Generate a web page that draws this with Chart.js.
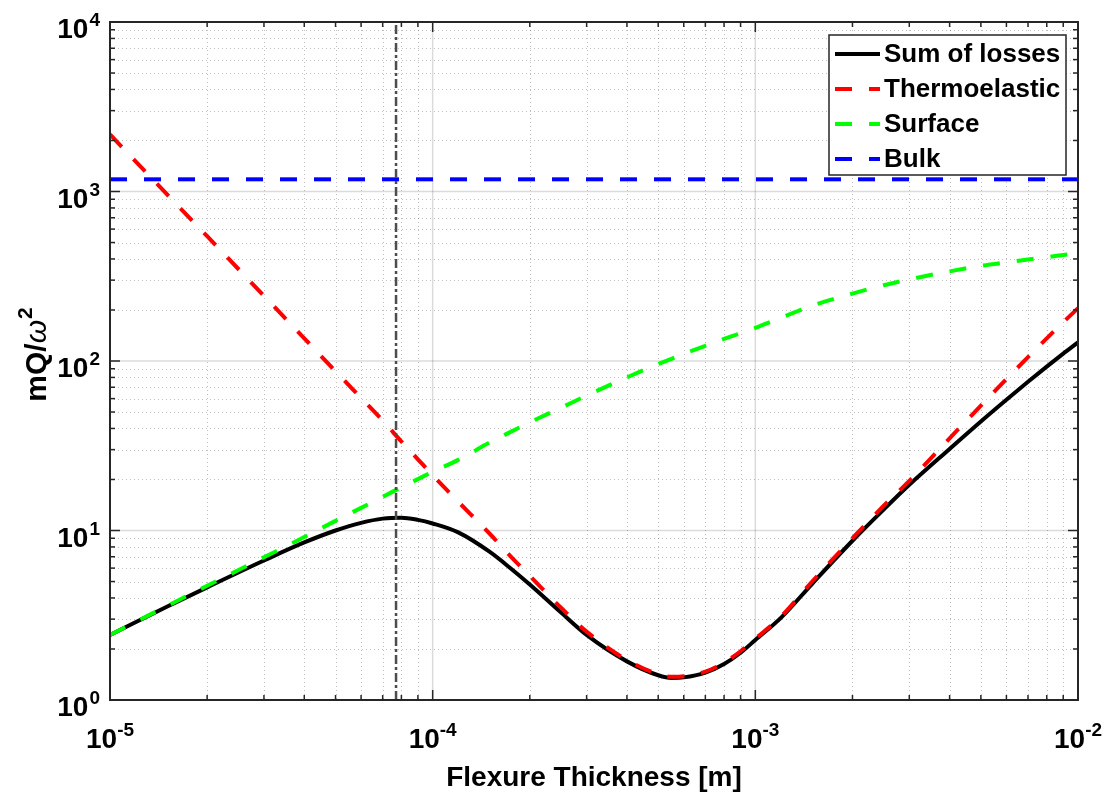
<!DOCTYPE html>
<html lang="en">
<head>
  <meta charset="UTF-8">
  <meta name="viewport" content="width=device-width, initial-scale=1.0">

  <!-- script element -- JavaScript- Chart.js -->
  <script src="https://cdn.jsdelivr.net/npm/chart.js@4.4.1/dist/chart.umd.min.js"></script>

  <title>Loss budget vs flexure thickness</title>
  <style>
    html, body { margin: 0; padding: 0; background: #ffffff; }
    canvas { display: block; }
  </style>
</head>
<body>
  <canvas id="chart" width="1110" height="792"></canvas>

  <script>
    // 01 data (x = flexure thickness [m], y = mQ/w^2)
    const thickness = [1e-5, 1.5e-5, 2e-5, 3e-5, 4e-5, 5e-5, 6e-5, 7e-5, 8e-5, 9e-5,
      1e-4, 1.2e-4, 1.5e-4, 1.75e-4, 2e-4, 2.5e-4, 3e-4, 4e-4, 5e-4, 5.5e-4, 6e-4, 7e-4, 8e-4, 9e-4,
      1e-3, 1.2e-3, 1.5e-3, 2e-3, 2.5e-3, 3e-3, 4e-3, 5e-3, 6e-3, 7e-3, 8e-3, 9e-3, 1e-2];

    const sumOfLosses = [2.42, 3.55, 4.62, 6.65, 8.5, 10.0, 11.1, 11.75, 11.9, 11.55,
      11.0, 9.75, 7.5, 5.95, 4.8, 3.28, 2.42, 1.69, 1.40, 1.35, 1.36, 1.45, 1.63, 1.9,
      2.26, 3.05, 4.85, 8.7, 13.3, 18.6, 30.3, 44, 59.1, 75.4, 92.6, 110.5, 128.8];

    const thermoelastic = [2170, 965, 545, 242, 136, 87, 60.5, 44.5, 33.5, 26.3,
      21.2, 14.8, 9.6, 7.0, 5.4, 3.5, 2.53, 1.72, 1.42, 1.37, 1.38, 1.47, 1.66, 1.94,
      2.3, 3.1, 5.0, 9.0, 14.0, 19.6, 35, 54.5, 78.2, 105.5, 136, 169.3, 205];

    const surface = [2.42, 3.58, 4.72, 6.95, 9.15, 11.4, 13.6, 15.8, 18.0, 20.1,
      22.2, 26.1, 33, 38.3, 43.5, 53, 62.5, 80, 96, 103, 110, 123, 135, 146,
      157, 180, 212, 250, 280, 303, 338, 364, 382, 397, 410, 422, 433];

    const bulkThickness = [1e-5, 1e-2];
    const bulk = [1180, 1180];

    const markerThickness = [7.7e-5, 7.7e-5];   // dash-dot marker line
    const markerLevels = [1, 1e4];

    const legendLabels = ['Sum of losses', 'Thermoelastic', 'Surface', 'Bulk'];
    const xTickExponents = [-5, -4, -3, -2];
    const yTickExponents = [0, 1, 2, 3, 4];
    const xTitle = 'Flexure Thickness [m]';

    // 02 helpers
    const FONT = '"Liberation Sans", Arial, Helvetica, sans-serif';
    const toPoints = (xs, ys) => xs.map((x, i) => ({ x: x, y: ys[i] }));

    // 03 plugin -- MATLAB style box, grid, ticks, labels and legend
    const matlabAxes = {
      id: 'matlabAxes',
      beforeDatasetsDraw(chart) {
        const { ctx, chartArea: a, scales: { x, y } } = chart;
        ctx.save();
        // minor grid (dotted)
        ctx.strokeStyle = 'rgba(0,0,0,0.25)';
        ctx.lineWidth = 1;
        ctx.setLineDash([1, 3]);
        xTickExponents.slice(0, -1).forEach(e => {
          for (let m = 2; m <= 9; m++) {
            const px = Math.round(x.getPixelForValue(m * Math.pow(10, e))) + 0.5;
            ctx.beginPath(); ctx.moveTo(px, a.top); ctx.lineTo(px, a.bottom); ctx.stroke();
          }
        });
        yTickExponents.slice(0, -1).forEach(e => {
          for (let m = 2; m <= 9; m++) {
            const py = Math.round(y.getPixelForValue(m * Math.pow(10, e))) + 0.5;
            ctx.beginPath(); ctx.moveTo(a.left, py); ctx.lineTo(a.right, py); ctx.stroke();
          }
        });
        // major grid (solid light gray)
        ctx.setLineDash([]);
        ctx.strokeStyle = 'rgba(0,0,0,0.14)';
        ctx.lineWidth = 1.5;
        xTickExponents.forEach(e => {
          const px = x.getPixelForValue(Math.pow(10, e));
          ctx.beginPath(); ctx.moveTo(px, a.top); ctx.lineTo(px, a.bottom); ctx.stroke();
        });
        yTickExponents.forEach(e => {
          const py = y.getPixelForValue(Math.pow(10, e));
          ctx.beginPath(); ctx.moveTo(a.left, py); ctx.lineTo(a.right, py); ctx.stroke();
        });
        ctx.restore();
      },
      afterDatasetsDraw(chart) {
        const { ctx, chartArea: a, scales: { x, y } } = chart;
        ctx.save();
        ctx.setLineDash([]);

        // box
        ctx.strokeStyle = '#262626';
        ctx.lineWidth = 2;
        ctx.strokeRect(a.left, a.top, a.right - a.left, a.bottom - a.top);

        // inward ticks on all four sides
        ctx.lineWidth = 1.5;
        const tick = (len, px, py, dx, dy) => {
          ctx.beginPath(); ctx.moveTo(px, py); ctx.lineTo(px + dx * len, py + dy * len); ctx.stroke();
        };
        xTickExponents.forEach((e, k) => {
          for (let m = 1; m <= 9; m++) {
            if (m > 1 && k === xTickExponents.length - 1) break;
            const px = x.getPixelForValue(m * Math.pow(10, e));
            const len = m === 1 ? 10 : 5;
            tick(len, px, a.bottom, 0, -1);
            tick(len, px, a.top, 0, 1);
          }
        });
        yTickExponents.forEach((e, k) => {
          for (let m = 1; m <= 9; m++) {
            if (m > 1 && k === yTickExponents.length - 1) break;
            const py = y.getPixelForValue(m * Math.pow(10, e));
            const len = m === 1 ? 10 : 5;
            tick(len, a.left, py, 1, 0);
            tick(len, a.right, py, -1, 0);
          }
        });

        // tick labels 10^n
        ctx.fillStyle = '#000000';
        ctx.textBaseline = 'alphabetic';
        ctx.textAlign = 'left';
        const baseFont = 'bold 28px ' + FONT;
        const expFont = 'bold 19px ' + FONT;
        const measure = (txt, f) => { ctx.font = f; return ctx.measureText(txt).width; };

        xTickExponents.forEach(e => {
          const px = x.getPixelForValue(Math.pow(10, e));
          const w10 = measure('10', baseFont), wE = measure(String(e), expFont);
          const left = px - (w10 + wE) / 2;
          ctx.font = baseFont; ctx.fillText('10', left, a.bottom + 48);
          ctx.font = expFont; ctx.fillText(String(e), left + w10, a.bottom + 36);
        });
        yTickExponents.forEach(e => {
          const py = y.getPixelForValue(Math.pow(10, e));
          const w10 = measure('10', baseFont), wE = measure(String(e), expFont);
          const left = a.left - 11 - (w10 + wE);
          ctx.font = baseFont; ctx.fillText('10', left, py + 16);
          ctx.font = expFont; ctx.fillText(String(e), left + w10 + 1, py + 4);
        });

        // axis titles
        ctx.font = baseFont;
        ctx.textAlign = 'center';
        ctx.fillText(xTitle, (a.left + a.right) / 2, a.bottom + 86);

        ctx.translate(46, 355);
        ctx.rotate(-Math.PI / 2);
        const titleFont = 'bold 30px ' + FONT;
        const part1 = 'mQ/', part2 = '\u03c9', part3 = '2';
        const f2 = 'italic 30px ' + FONT;
        const supFont = 'bold 21px ' + FONT;
        const w1 = measure(part1, titleFont), w2 = measure(part2, f2), w3 = measure(part3, supFont);
        let cx = -(w1 + w2 + w3) / 2;
        ctx.textAlign = 'left';
        ctx.font = titleFont; ctx.fillText(part1, cx, 0); cx += w1;
        ctx.font = f2; ctx.fillText(part2, cx, 0); cx += w2 + 1;
        ctx.font = supFont; ctx.fillText(part3, cx, -14);
        ctx.restore();

        // legend box
        ctx.save();
        const lx = 829, ly = 35, lw = 237, lh = 140;
        ctx.fillStyle = '#ffffff';
        ctx.fillRect(lx, ly, lw, lh);
        ctx.strokeStyle = '#262626';
        ctx.lineWidth = 1.5;
        ctx.strokeRect(lx, ly, lw, lh);
        const entries = chart.data.datasets.filter(d => d.label && legendLabels.includes(d.label));
        ctx.font = 'bold 26px ' + FONT;
        ctx.textBaseline = 'middle';
        ctx.textAlign = 'left';
        entries.forEach((d, i) => {
          const ey = ly + 19 + i * 35;
          ctx.strokeStyle = d.borderColor;
          ctx.lineWidth = d.borderWidth;
          ctx.setLineDash(d.borderDash || []);
          ctx.beginPath(); ctx.moveTo(lx + 6, ey); ctx.lineTo(lx + 51, ey); ctx.stroke();
          ctx.setLineDash([]);
          ctx.fillStyle = '#000000';
          ctx.fillText(d.label, lx + 55, ey + 1);
        });
        ctx.restore();
      }
    };

    // 04 create chart
    const elChart = document.getElementById('chart').getContext('2d');
    const myChart = new Chart(elChart, {
      type: 'line',
      data: {
        datasets: [
          {
            label: legendLabels[0],
            data: toPoints(thickness, sumOfLosses),
            borderColor: '#000000',
            borderWidth: 4,
            cubicInterpolationMode: 'monotone',
            pointRadius: 0,
            order: 5
          },
          {
            label: legendLabels[1],
            data: toPoints(thickness, thermoelastic),
            borderColor: '#ff0000',
            borderWidth: 4,
            borderDash: [17, 17],
            cubicInterpolationMode: 'monotone',
            pointRadius: 0,
            order: 4
          },
          {
            label: legendLabels[2],
            data: toPoints(thickness, surface),
            borderColor: '#00ff00',
            borderWidth: 4,
            borderDash: [17, 17],
            cubicInterpolationMode: 'monotone',
            pointRadius: 0,
            order: 3
          },
          {
            label: legendLabels[3],
            data: toPoints(bulkThickness, bulk),
            borderColor: '#0000ff',
            borderWidth: 4,
            borderDash: [17, 17],
            pointRadius: 0,
            order: 2
          },
          {
            label: '',
            data: toPoints(markerThickness, markerLevels),
            borderColor: '#4d4d4d',
            borderWidth: 2.5,
            borderDash: [9, 3, 3, 3],
            pointRadius: 0,
            order: 1
          }
        ]
      },
      options: {
        responsive: false,
        animation: false,
        devicePixelRatio: 1,
        layout: { padding: { left: 102, right: 32, top: 22, bottom: 84 } },
        plugins: {
          legend: { display: false },
          tooltip: { enabled: false }
        },
        scales: {
          x: {
            type: 'logarithmic',
            min: 1e-5,
            max: 1e-2,
            ticks: { display: false },
            grid: { display: false },
            border: { display: false }
          },
          y: {
            type: 'logarithmic',
            min: 1,
            max: 1e4,
            ticks: { display: false },
            grid: { display: false },
            border: { display: false }
          }
        }
      },
      plugins: [matlabAxes]
    });
  </script>
</body>
</html>
